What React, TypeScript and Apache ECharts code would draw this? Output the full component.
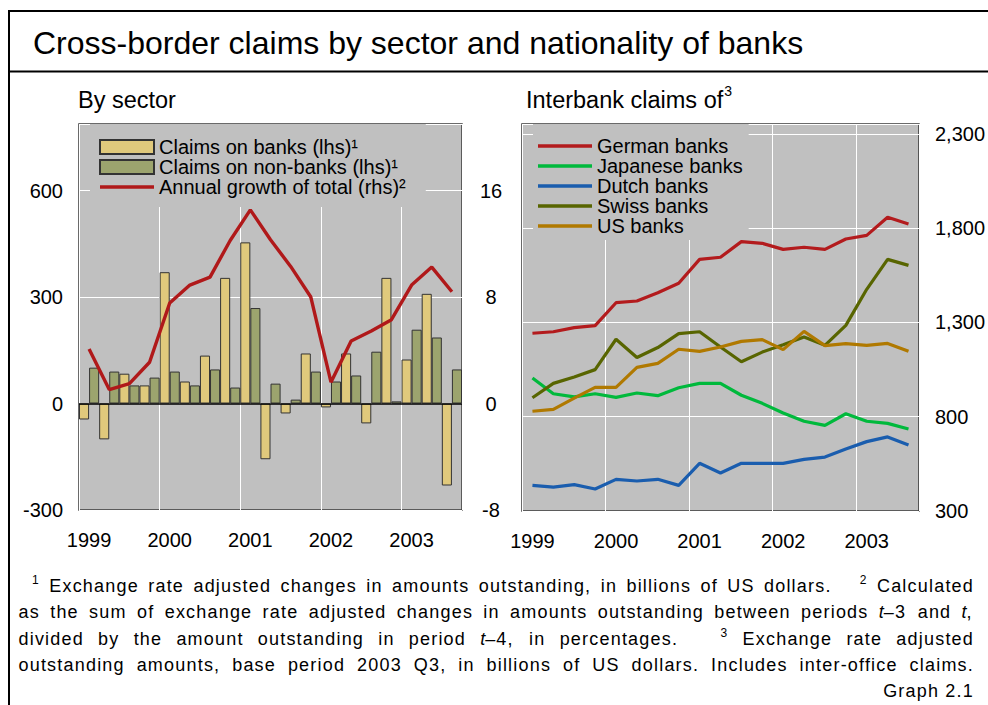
import React, { useEffect, useRef } from 'react';
import * as echarts from 'echarts';

const FONT = "'Liberation Sans', Arial, Helvetica, sans-serif";

// ---- Data ----
const quarters = [
  '1999 Q1', '1999 Q2', '1999 Q3', '1999 Q4',
  '2000 Q1', '2000 Q2', '2000 Q3', '2000 Q4',
  '2001 Q1', '2001 Q2', '2001 Q3', '2001 Q4',
  '2002 Q1', '2002 Q2', '2002 Q3', '2002 Q4',
  '2003 Q1', '2003 Q2', '2003 Q3',
];

// Left panel: by sector
const claimsOnBanks = [-45, -101, 84, 51, 370, 62, 135, 354, 454, -157, -28, 141, -11, 141, -56, 354, 124, 309, -231];
const claimsOnNonBanks = [101, 90, 51, 73, 90, 51, 96, 45, 269, 56, 11, 90, 62, 79, 146, 6, 208, 186, 96];
const growthOfTotal = [4.1, 1.05, 1.5, 3.1, 7.55, 8.9, 9.5, 12.25, 14.55, 12.3, 10.3, 8.0, 1.6, 4.7, 5.45, 6.3, 8.9, 10.25, 8.4];

// Right panel: interbank claims by nationality
const germanBanks = [1243, 1251, 1273, 1283, 1405, 1414, 1458, 1508, 1635, 1646, 1729, 1720, 1688, 1699, 1688, 1743, 1762, 1858, 1823];
const japaneseBanks = [1006, 922, 905, 922, 903, 926, 912, 954, 977, 977, 914, 871, 820, 776, 754, 816, 776, 765, 735];
const dutchBanks = [436, 427, 440, 417, 468, 459, 468, 436, 553, 502, 553, 553, 553, 574, 586, 629, 668, 693, 650];
const swissBanks = [901, 977, 1011, 1050, 1211, 1114, 1167, 1241, 1251, 1170, 1092, 1143, 1182, 1223, 1179, 1285, 1476, 1635, 1603];
const usBanks = [829, 839, 899, 956, 956, 1062, 1083, 1158, 1147, 1170, 1200, 1209, 1156, 1253, 1177, 1188, 1179, 1189, 1147];

// Text
const titleText = 'Cross-border claims by sector and nationality of banks';
const leftSubtitle = 'By sector';
const rightSubtitle = 'Interbank claims of';
const footLines = [
  '^1 Exchange rate adjusted changes in amounts outstanding, in billions of US dollars.   ^2 Calculated',
  'as the sum of exchange rate adjusted changes in amounts outstanding between periods {it|t}–3 and {it|t},',
  'divided by the amount outstanding in period {it|t}–4, in percentages.   ^3 Exchange rate adjusted',
  'outstanding amounts, base period 2003 Q3, in billions of US dollars. Includes inter-office claims.',
];
const graphLabel = 'Graph 2.1';

const PLOT_BG = '#c0c0c0';
const FOOT_SIZE = 18;
const FOOT_LS = 1.2; // letter spacing of the footnote block (px)
const FOOT_TOP = 560;
const LINE_ICON = 'path://M0,0L54,0L54,3.4L0,3.4Z';

let measureCtx: CanvasRenderingContext2D | null = null;
function measure(text: string, size: number, ls = 0) {
  if (!measureCtx) measureCtx = document.createElement('canvas').getContext('2d');
  const ctx = measureCtx!;
  ctx.font = `${size}px ${FONT}`;
  return ctx.measureText(text).width + ls * text.length;
}

function textEl(text: string, x: number, y: number, size: number, extra: any = {}) {
  return {
    type: 'text',
    x,
    y,
    silent: true,
    style: {
      text,
      fontSize: size,
      fontFamily: FONT,
      fill: '#000',
      align: 'left',
      verticalAlign: 'middle',
      textAlign: 'left',
      textVerticalAlign: 'middle',
      ...extra,
    },
  };
}

function layoutFootLine(line: string, x0: number, x1: number, y: number, justify: boolean) {
  const parts = line.split(' ');
  const toks: { p: string; wb: number; w: number; sup: boolean }[] = [];
  let empties = 0;
  for (const p of parts) {
    if (p === '') { empties++; continue; }
    const sup = p.startsWith('^');
    const plain = sup ? p.slice(1) : p.replace(/\{it\|([^}]*)\}/g, '$1');
    const w = measure(plain, sup ? 12 : FOOT_SIZE, FOOT_LS);
    toks.push({ p, wb: toks.length ? empties + 1 : 0, w, sup });
    empties = 0;
  }
  const total = toks.reduce((a, t) => a + t.w, 0);
  const weights = toks.reduce((a, t) => a + t.wb, 0);
  const gap = justify && weights > 0 ? (x1 - x0 - total) / weights : measure(' ', FOOT_SIZE, FOOT_LS);
  const els: any[] = [];
  let x = x0;
  toks.forEach((t) => {
    x += t.wb * gap;
    if (t.sup) {
      els.push(textEl(t.p.slice(1), x, y - 6, 12));
    } else if (t.p.includes('{it|')) {
      els.push(textEl(t.p, x, y, FOOT_SIZE, { rich: { it: { fontStyle: 'italic', fontSize: FOOT_SIZE, fontFamily: FONT, fill: '#000' } } }));
    } else {
      els.push(textEl(t.p, x, y, FOOT_SIZE));
    }
    x += t.w;
  });
  return els;
}

function buildFootOption() {
  const els: any[] = [];
  const baseY = 586 - FOOT_TOP;
  const lh = 26.3;
  els.push(...layoutFootLine(footLines[0], 32, 974, baseY, true));
  els.push(...layoutFootLine(footLines[1], 18.5, 974, baseY + lh, true));
  els.push(...layoutFootLine(footLines[2], 18.5, 974, baseY + 2 * lh, true));
  els.push(...layoutFootLine(footLines[3], 18.5, 974, baseY + 3 * lh, true));
  els.push(textEl(graphLabel, 974, baseY + 4 * lh, FOOT_SIZE, { align: 'right', textAlign: 'right' }));
  return { animation: false, graphic: { elements: els } };
}

function buildOption() {
  const axisLabelBase = { fontSize: 20, color: '#000', fontFamily: FONT };
  const gridBase = { show: true, backgroundColor: PLOT_BG, borderColor: '#3a3a3a', borderWidth: 1.5, containLabel: false };
  const catAxis = (gridIndex: number) => ({
    type: 'category',
    gridIndex,
    data: quarters,
    boundaryGap: true,
    axisLine: { show: false },
    axisTick: { show: false, interval: 3 },
    axisLabel: { ...axisLabelBase, interval: 3, margin: 20, formatter: (v: string) => v.slice(0, 4) },
    splitLine: { show: true, interval: 3, lineStyle: { color: '#ffffff', width: 1 } },
  });

  const graphics: any[] = [];
  // frame
  graphics.push({ type: 'line', silent: true, shape: { x1: 9, y1: 11, x2: 988, y2: 11 }, style: { stroke: '#000', lineWidth: 2 } });
  graphics.push({ type: 'line', silent: true, shape: { x1: 9, y1: 10, x2: 9, y2: 705 }, style: { stroke: '#000', lineWidth: 2 } });
  graphics.push({ type: 'line', silent: true, shape: { x1: 9, y1: 71.5, x2: 988, y2: 71.5 }, style: { stroke: '#000', lineWidth: 2 } });
  // titles
  graphics.push(textEl(titleText, 33, 42.5, 32));
  graphics.push(textEl(leftSubtitle, 78, 100, 23.5));
  graphics.push(textEl(rightSubtitle, 526, 100, 23.5));
  graphics.push(textEl('3', 526 + measure(rightSubtitle, 23.5) + 1, 91, 14));

  const legendBase = {
    orient: 'vertical',
    itemWidth: 54,
    itemHeight: 14,
    itemGap: 0,
    z: 1,
    symbolKeepAspect: true,
    backgroundColor: PLOT_BG,
    selectedMode: false,
    textStyle: { fontSize: 20, color: '#000', fontFamily: FONT, lineHeight: 20 },
  };

  const lineSeries = (name: string, data: number[], color: string) => ({
    name,
    type: 'line',
    xAxisIndex: 1,
    yAxisIndex: 2,
    data,
    symbol: 'none',
    showSymbol: false,
    lineStyle: { color, width: 3.2 },
    itemStyle: { color },
    z: 3,
  });

  return {
    animation: false,
    backgroundColor: 'transparent',
    textStyle: { fontFamily: FONT },
    grid: [
      { ...gridBase, left: 79, top: 124, width: 383, height: 386 },
      { ...gridBase, left: 522, top: 124, width: 401, height: 387 },
    ],
    xAxis: [catAxis(0), catAxis(1)],
    yAxis: [
      {
        type: 'value', gridIndex: 0, position: 'left', min: -300, max: 787.5, interval: 300,
        axisLine: { show: false }, axisTick: { show: false },
        axisLabel: { ...axisLabelBase, margin: 16, formatter: (v: number) => (v > 600 ? '' : String(v)) },
        splitLine: { show: true, lineStyle: { color: '#ffffff', width: 1 } },
      },
      {
        type: 'value', gridIndex: 0, position: 'right', min: -8, max: 21, interval: 8,
        axisLine: { show: false }, axisTick: { show: false },
        axisLabel: { ...axisLabelBase, margin: 29, align: 'center', formatter: (v: number) => (v > 16 ? '' : String(v)) },
        splitLine: { show: false },
      },
      {
        type: 'value', gridIndex: 1, position: 'right', min: 300, max: 2353, interval: 500,
        axisLine: { show: false }, axisTick: { show: false },
        axisLabel: { ...axisLabelBase, margin: 16, formatter: (v: number) => (v > 2300 ? '' : v.toLocaleString('en-US')) },
        splitLine: { show: true, lineStyle: { color: '#ffffff', width: 1 } },
      },
    ],
    legend: [
      {
        ...legendBase,
        left: 90, top: 124,
        padding: [13, 20, 10, 9],
        data: [
          { name: 'Claims on banks (lhs)¹', icon: 'rect' },
          { name: 'Claims on non-banks (lhs)¹', icon: 'rect' },
          { name: 'Annual growth of total (rhs)²', icon: LINE_ICON },
        ],
      },
      {
        ...legendBase,
        left: 533, top: 124,
        padding: [12, 6, 4, 5],
        data: ['German banks', 'Japanese banks', 'Dutch banks', 'Swiss banks', 'US banks'].map((name) => ({ name, icon: LINE_ICON })),
      },
    ],
    series: [
      {
        name: 'Claims on banks (lhs)¹', type: 'bar', xAxisIndex: 0, yAxisIndex: 0, data: claimsOnBanks,
        barGap: '0%', barCategoryGap: '0%',
        itemStyle: { color: '#e0c97c', borderColor: '#333333', borderWidth: 1 },
      },
      {
        name: 'Claims on non-banks (lhs)¹', type: 'bar', xAxisIndex: 0, yAxisIndex: 0, data: claimsOnNonBanks,
        barGap: '0%', barCategoryGap: '0%',
        itemStyle: { color: '#9ca46e', borderColor: '#333333', borderWidth: 1 },
        markLine: {
          silent: true, symbol: 'none', label: { show: false },
          lineStyle: { color: '#000', width: 1.5, type: 'solid' },
          data: [{ yAxis: 0 }],
        },
      },
      {
        name: 'Annual growth of total (rhs)²', type: 'line', xAxisIndex: 0, yAxisIndex: 1, data: growthOfTotal,
        symbol: 'none', showSymbol: false,
        lineStyle: { color: '#b0191a', width: 3.4 }, itemStyle: { color: '#b0191a' }, z: 4,
      },
      lineSeries('German banks', germanBanks, '#b31b1d'),
      lineSeries('Japanese banks', japaneseBanks, '#00b93c'),
      lineSeries('Dutch banks', dutchBanks, '#1a5dae'),
      lineSeries('Swiss banks', swissBanks, '#586500'),
      lineSeries('US banks', usBanks, '#b07900'),
    ],
    graphic: { elements: graphics },
  };
}

export default function App() {
  const ref = useRef<HTMLDivElement>(null);
  const footRef = useRef<HTMLDivElement>(null);
  useEffect(() => {
    document.body.style.margin = '0';
    const chart = echarts.init(ref.current!, null, { renderer: 'svg' });
    chart.setOption(buildOption() as any);
    const foot = echarts.init(footRef.current!, null, { renderer: 'svg' });
    foot.setOption(buildFootOption() as any);
    return () => {
      chart.dispose();
      foot.dispose();
    };
  }, []);
  return (
    <div style={{ position: 'relative', width: 988, height: 705, background: '#fff' }}>
      <div ref={ref} style={{ position: 'absolute', left: 0, top: 0, width: 988, height: 705 }} />
      <div
        ref={footRef}
        style={{ position: 'absolute', left: 0, top: FOOT_TOP, width: 988, height: 705 - FOOT_TOP, letterSpacing: `${FOOT_LS}px`, pointerEvents: 'none' }}
      />
    </div>
  );
}
